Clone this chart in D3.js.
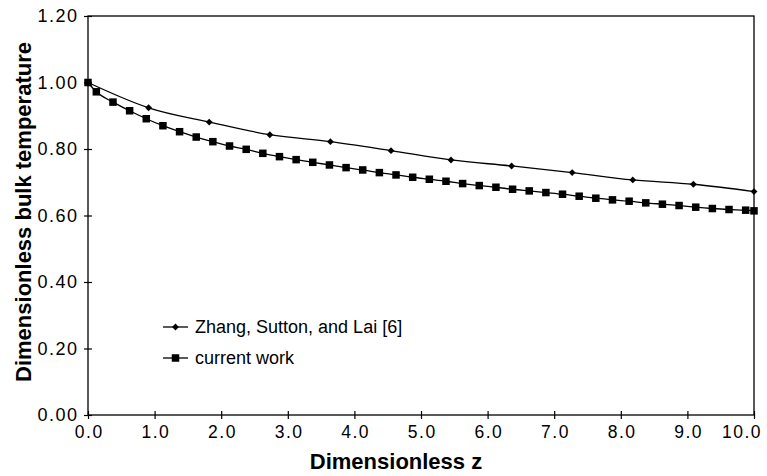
<!DOCTYPE html>
<html>
<head>
<meta charset="utf-8">
<script src="https://cdn.jsdelivr.net/npm/d3@7/dist/d3.min.js"></script>
<style>
body { margin: 0; background: #fff; }
svg text { font-family: "Liberation Sans", Arial, sans-serif; fill: #000; }
</style>
</head>
<body>
<div class="chart"></div>
<script>
// Zhang, Sutton, and Lai [6] (diamonds)
var zhang_z = [0, 0.91, 1.82, 2.73, 3.64, 4.55, 5.45, 6.36, 7.27, 8.18, 9.09, 10.0];
var zhang_t = [1.000, 0.924, 0.881, 0.843, 0.822, 0.795, 0.767, 0.749, 0.729, 0.707, 0.694, 0.672];

// current work (squares)
var cur_z = [0, 0.125, 0.375, 0.625, 0.875, 1.125, 1.375, 1.625, 1.875, 2.125, 2.375,
    2.625, 2.875, 3.125, 3.375, 3.625, 3.875, 4.125, 4.375, 4.625, 4.875, 5.125,
    5.375, 5.625, 5.875, 6.125, 6.375, 6.625, 6.875, 7.125, 7.375, 7.625, 7.875,
    8.125, 8.375, 8.625, 8.875, 9.125, 9.375, 9.625, 9.875, 10.0];
var cur_t = [1.000, 0.972, 0.941, 0.915, 0.891, 0.870, 0.852, 0.836, 0.822, 0.809, 0.799,
    0.787, 0.777, 0.768, 0.760, 0.752, 0.744, 0.737, 0.729, 0.722, 0.715, 0.709,
    0.703, 0.696, 0.690, 0.685, 0.679, 0.674, 0.669, 0.664, 0.658, 0.652, 0.647,
    0.643, 0.638, 0.634, 0.630, 0.625, 0.621, 0.618, 0.616, 0.614];

var x_ticks = [0, 1, 2, 3, 4, 5, 6, 7, 8, 9, 10];
var y_ticks = [0, 0.2, 0.4, 0.6, 0.8, 1.0, 1.2];
var legend_labels = ["Zhang, Sutton, and Lai [6]", "current work"];

var W = 767, H = 476;
var plot_l = 88, plot_r = 754, plot_t = 16, plot_b = 415;

var svg = d3.select(".chart").append("svg")
    .attr("width", W)
    .attr("height", H);

var x = d3.scaleLinear().domain([0, 10]).range([plot_l, plot_r]);
var y = d3.scaleLinear().domain([0, 1.2]).range([plot_b, plot_t]);

// plot frame
svg.append("rect")
    .attr("x", plot_l).attr("y", plot_t)
    .attr("width", plot_r - plot_l).attr("height", plot_b - plot_t)
    .attr("fill", "none").attr("stroke", "#000").attr("stroke-width", 1.3);

// x axis, ticks crossing the line
var xAxis = svg.append("g")
    .attr("transform", "translate(0," + plot_b + ")")
    .call(d3.axisBottom(x).tickValues(x_ticks).tickSize(4).tickPadding(7)
        .tickFormat(d3.format(".1f")));
xAxis.select(".domain").remove();
xAxis.selectAll(".tick line").attr("y1", -4).attr("stroke-width", 1.2);
xAxis.selectAll("text").attr("font-size", 17.5).attr("letter-spacing", 1.5).attr("dx", 0.75);
// last label is pulled inside the page, as in the original
xAxis.selectAll("text").filter(function (d) { return d === 10; })
    .attr("text-anchor", "end").attr("dx", 7.5);

// y axis
var yAxis = svg.append("g")
    .attr("transform", "translate(" + plot_l + ",0)")
    .call(d3.axisLeft(y).tickValues(y_ticks).tickSize(4).tickPadding(7)
        .tickFormat(d3.format(".2f")));
yAxis.select(".domain").remove();
yAxis.selectAll(".tick line").attr("x1", 4).attr("stroke-width", 1.2);
yAxis.selectAll("text").attr("font-size", 18).attr("letter-spacing", 1.5).attr("dx", 1.5);

// axis titles
svg.append("text")
    .attr("x", 396)
    .attr("y", 469)
    .attr("text-anchor", "middle")
    .attr("font-size", 22)
    .attr("font-weight", "bold")
    .text("Dimensionless z");

svg.append("text")
    .attr("transform", "translate(31,212) rotate(-90)")
    .attr("text-anchor", "middle")
    .attr("font-size", 22)
    .attr("font-weight", "bold")
    .text("Dimensionless bulk temperature");

var line = d3.line()
    .x(function (d) { return x(d[0]); })
    .y(function (d) { return y(d[1]); })
    .curve(d3.curveMonotoneX);

var zhang = d3.zip(zhang_z, zhang_t);
var cur = d3.zip(cur_z, cur_t);

svg.append("path").datum(zhang)
    .attr("d", line)
    .attr("fill", "none").attr("stroke", "#000").attr("stroke-width", 1.3);
svg.append("path").datum(cur)
    .attr("d", line)
    .attr("fill", "none").attr("stroke", "#000").attr("stroke-width", 1.3);

var diamond = d3.symbol().type(d3.symbolDiamond2).size(30);
var square_size = 7.5;

svg.selectAll(".dia").data(zhang).enter().append("path")
    .attr("class", "dia")
    .attr("transform", function (d) { return "translate(" + x(d[0]) + "," + y(d[1]) + ")"; })
    .attr("d", diamond)
    .attr("fill", "#000");

svg.selectAll(".sq").data(cur).enter().append("rect")
    .attr("class", "sq")
    .attr("x", function (d) { return x(d[0]) - square_size / 2; })
    .attr("y", function (d) { return y(d[1]) - square_size / 2; })
    .attr("width", square_size).attr("height", square_size)
    .attr("fill", "#000");

// legend
var leg_x = 163, leg_y = [327, 358];
legend_labels.forEach(function (lab, i) {
    var g = svg.append("g").attr("transform", "translate(" + leg_x + "," + leg_y[i] + ")");
    g.append("line").attr("x1", 0).attr("x2", 25).attr("y1", 0).attr("y2", 0)
        .attr("stroke", "#000").attr("stroke-width", 1.3);
    if (i === 0) {
        g.append("path").attr("transform", "translate(12.5,0)").attr("d", diamond).attr("fill", "#000");
    } else {
        g.append("rect").attr("x", 12.5 - square_size / 2).attr("y", -square_size / 2)
            .attr("width", square_size).attr("height", square_size).attr("fill", "#000");
    }
    g.append("text").attr("x", 32).attr("y", 0).attr("dy", "0.35em")
        .attr("font-size", 18).text(lab);
});
</script>
</body>
</html>
